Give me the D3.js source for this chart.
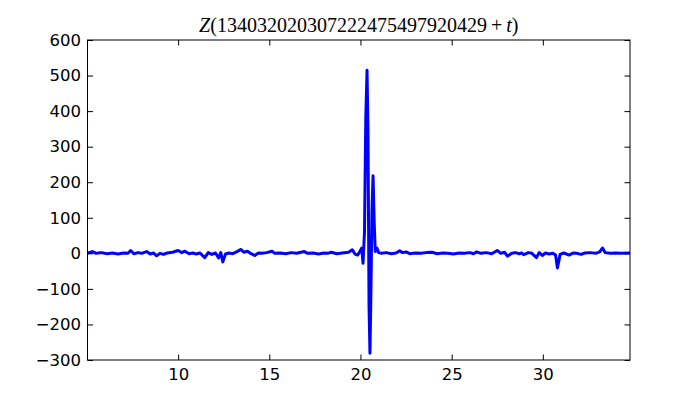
<!DOCTYPE html>
<html>
<head>
<meta charset="utf-8">
<script src="https://cdn.jsdelivr.net/npm/d3@7"></script>
<style>
  body { margin: 0; background: #fff; }
  svg { display: block; }
</style>
</head>
<body>
<div id="chart"></div>
<script>
"use strict";

// Z(t) samples: [t, Z]
const zSamples = [
  [5.03, 1], [5.2, 3], [5.3, 5], [5.5, 0], [5.8, 2], [6.1, -1], [6.4, 1], [6.7, -2],
  [7.0, 1], [7.25, 0], [7.4, 8], [7.57, -1], [7.8, 2], [8.0, 0], [8.27, 5], [8.47, -2],
  [8.65, 1], [8.82, -7], [9.0, 0], [9.2, -3], [9.4, 1], [9.7, 3], [10.0, 8], [10.2, 2],
  [10.37, 6], [10.6, -1], [10.8, 1], [11.0, -2], [11.2, 1], [11.46, -12], [11.65, 2],
  [11.85, -3], [12.05, 1], [12.22, -13], [12.34, 2], [12.45, -24], [12.6, -2], [12.8, 1],
  [13.0, -1], [13.2, 4], [13.45, 11], [13.6, 3], [13.8, 6], [14.0, -1], [14.2, -6],
  [14.4, 1], [14.6, 0], [14.85, 2], [15.15, 6], [15.3, 0], [15.6, 1], [15.9, -1],
  [16.2, 2], [16.5, 0], [16.92, 5], [17.1, 0], [17.4, 1], [17.7, -2], [18.0, 1],
  [18.2, 0], [18.4, 3], [18.7, -1], [19.0, 1], [19.35, 3], [19.55, 10], [19.7, -2],
  [19.85, -5], [19.95, 4], [20.07, 15], [20.14, -28], [20.22, 60], [20.29, 380],
  [20.36, 515], [20.41, 350], [20.47, -150], [20.52, -281], [20.57, -120], [20.63, 120],
  [20.69, 218], [20.75, 90], [20.81, 5], [20.9, 15], [21.0, 2], [21.15, 0], [21.4, 2],
  [21.7, -1], [21.95, 1], [22.15, 7], [22.3, 2], [22.5, 4], [22.7, -1], [23.0, 1],
  [23.3, 0], [23.6, 2], [23.93, 3], [24.2, -1], [24.5, 1], [24.8, 0], [25.1, -2],
  [25.4, 1], [25.7, 0], [26.0, 2], [26.2, -1], [26.37, 4], [26.6, 0], [26.9, 2],
  [27.2, -1], [27.5, 8], [27.7, 0], [27.9, 3], [28.06, -8], [28.3, 0], [28.5, 2],
  [28.7, -1], [28.85, 1], [28.95, -4], [29.2, 2], [29.4, 0], [29.65, -12], [29.8, 2],
  [29.97, -6], [30.15, 1], [30.35, -2], [30.55, 0], [30.7, -5], [30.8, -41], [30.95, -3],
  [31.15, 1], [31.45, -5], [31.65, 1], [31.85, 0], [32.1, -3], [32.3, 1], [32.6, 2],
  [32.9, 0], [33.12, 4], [33.27, 15], [33.42, 2], [33.7, 0], [34.0, 1], [34.3, 0],
  [34.78, 1]
];

const xTicks = [10, 15, 20, 25, 30];
const yTicks = [-300, -200, -100, 0, 100, 200, 300, 400, 500, 600];
const xDomain = [5.03, 34.78];
const yDomain = [-300, 600];

///////////////////////////
// sizing (matplotlib classic subplot box)
///////////////////////////
const width = 700, height = 400;
const box = { left: 87.5, right: 630, top: 40, bottom: 360 };

const svg = d3.select("#chart")
  .append("svg")
  .attr("width", width)
  .attr("height", height);

const x = d3.scaleLinear().domain(xDomain).range([box.left, box.right]);
const y = d3.scaleLinear().domain(yDomain).range([box.bottom, box.top]);

// clip the line to the axes box
svg.append("clipPath").attr("id", "clip")
  .append("rect")
  .attr("x", box.left).attr("y", box.top)
  .attr("width", box.right - box.left).attr("height", box.bottom - box.top);

const line = d3.line()
  .x((d) => x(d[0]))
  .y((d) => y(d[1]));

svg.append("path")
  .datum(zSamples)
  .attr("clip-path", "url(#clip)")
  .attr("d", line)
  .attr("fill", "none")
  .attr("stroke", "#0000ff")
  .attr("stroke-width", 3)
  .attr("stroke-linejoin", "round");

///////////////////////////
// axes: ticks inside, on all four sides
///////////////////////////
const tickLen = 5.5;
const minus = (v) => (v < 0 ? "\u2212" + Math.abs(v) : String(v));

svg.append("g")
  .attr("transform", `translate(0,${box.bottom})`)
  .call(d3.axisBottom(x).tickValues(xTicks).tickSizeInner(-tickLen).tickSizeOuter(0).tickPadding(8))
  .call((g) => g.select(".domain").remove());

svg.append("g")
  .attr("transform", `translate(0,${box.top})`)
  .call(d3.axisTop(x).tickValues(xTicks).tickSizeInner(-tickLen).tickSizeOuter(0).tickFormat(""))
  .call((g) => g.select(".domain").remove());

svg.append("g")
  .attr("transform", `translate(${box.left},0)`)
  .call(d3.axisLeft(y).tickValues(yTicks).tickSizeInner(-tickLen).tickSizeOuter(0).tickPadding(6.5).tickFormat(minus))
  .call((g) => g.select(".domain").remove());

svg.append("g")
  .attr("transform", `translate(${box.right},0)`)
  .call(d3.axisRight(y).tickValues(yTicks).tickSizeInner(-tickLen).tickSizeOuter(0).tickFormat(""))
  .call((g) => g.select(".domain").remove());

svg.selectAll(".tick line").attr("stroke", "#000").attr("stroke-width", 1);
svg.selectAll(".tick text")
  .attr("fill", "#000")
  .style("font-family", "'DejaVu Sans', sans-serif")
  .style("font-size", "16.5px");

// frame
svg.append("rect")
  .attr("x", box.left).attr("y", box.top)
  .attr("width", box.right - box.left).attr("height", box.bottom - box.top)
  .attr("fill", "none")
  .attr("stroke", "#000")
  .attr("stroke-width", 1);

///////////////////////////
// title
///////////////////////////
const title = svg.append("text")
  .attr("x", (box.left + box.right) / 2)
  .attr("y", 32)
  .attr("text-anchor", "middle")
  .style("font-family", "'Liberation Serif', 'DejaVu Serif', serif")
  .style("font-size", "20px")
  .attr("fill", "#000");

title.append("tspan").style("font-style", "italic").text("Z");
title.append("tspan").text("(134032020307222475497920429\u2009+\u2009");
title.append("tspan").style("font-style", "italic").text("t");
title.append("tspan").text(")");
</script>
</body>
</html>
